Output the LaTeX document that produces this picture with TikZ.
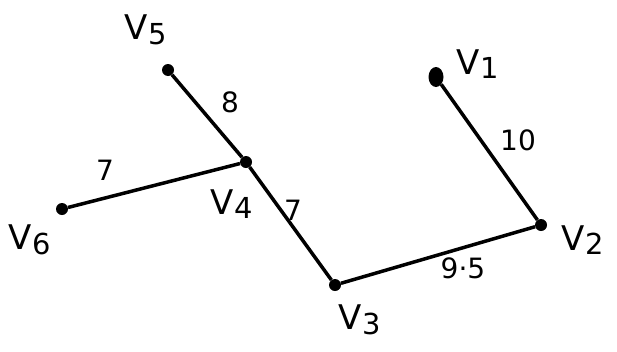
\documentclass[tikz,border=0pt]{standalone}
\usepackage{fontspec}
\setmainfont{DejaVu Sans}
\usepackage{graphicx}
\usetikzlibrary{shapes.geometric}
\newcommand\vlab[1]{V\kern0.5pt\raisebox{-0.25ex}{\scalebox{0.85}{#1}}}
\begin{document}
\begin{tikzpicture}[x=1pt,y=-1pt,
  vert/.style={circle,fill=black,inner sep=0pt,minimum size=12pt},
  bigvert/.style={ellipse,fill=black,inner sep=0pt,minimum width=15pt,minimum height=20pt},
  edge/.style={line width=3.5pt},
  vname/.style={font=\fontsize{34}{34}\selectfont},
  wlab/.style={font=\fontsize{28}{28}\selectfont}]
\useasboundingbox (0,0) rectangle (617,351);
\node[vert] (v5) at (168,70) {};
\node[vert] (v4) at (246,162) {};
\node[vert] (v6) at (62,209) {};
\node[vert] (v3) at (335,285) {};
\node[vert] (v2) at (541,225) {};
\node[bigvert] (v1) at (436,77) {};
\draw[edge] (v5) -- (v4);
\draw[edge] (v4) -- (v6);
\draw[edge] (v4) -- (v3);
\draw[edge] (v3) -- (v2);
\draw[edge] (v2) -- (v1);
\node[vname] (l5) at (146,30) {\vlab{5}};
\node[vname] (l1) at (478,64) {\vlab{1}};
\node[vname] (l4) at (232,204) {\vlab{4}};
\node[vname] (l6) at (30,240) {\vlab{6}};
\node[vname] (l3) at (360,320) {\vlab{3}};
\node[vname] (l2) at (583,240) {\vlab{2}};
\node[wlab] (w54) at (230,102) {8};
\node[wlab] (w46) at (105,170) {7};
\node[wlab] (w43) at (293,210) {7};
\node[wlab] (w32) at (463,268) {9·5};
\node[wlab] (w21) at (518,140) {10};
\end{tikzpicture}
\end{document}
